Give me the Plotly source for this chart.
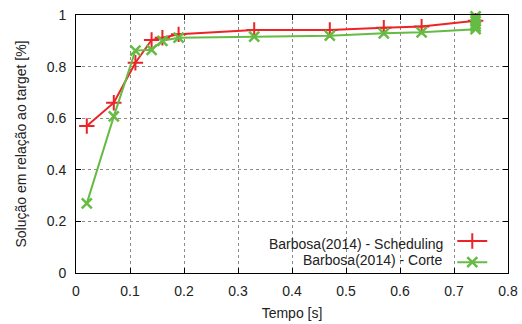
import plotly.graph_objects as go

# Data
time_sched = [0.02, 0.07, 0.11, 0.14, 0.16, 0.19, 0.33, 0.47, 0.57, 0.64, 0.74]
val_sched = [0.57, 0.66, 0.815, 0.903, 0.912, 0.925, 0.942, 0.942, 0.951, 0.955, 0.978]

time_corte = [0.02, 0.07, 0.11, 0.14, 0.16, 0.19, 0.33, 0.47, 0.57, 0.64,
              0.74, 0.74, 0.74, 0.74, 0.74, 0.74]
val_corte = [0.27, 0.607, 0.862, 0.865, 0.90, 0.912, 0.916, 0.92, 0.929, 0.933,
             0.945, 0.955, 0.965, 0.975, 0.985, 0.995]

label_sched = "Barbosa(2014) - Scheduling"
label_corte = "Barbosa(2014) - Corte"

x_ticks = [0, 0.1, 0.2, 0.3, 0.4, 0.5, 0.6, 0.7, 0.8]
x_ticktext = ["0", "0.1", "0.2", "0.3", "0.4", "0.5", "0.6", "0.7", "0.8"]
y_ticks = [0, 0.2, 0.4, 0.6, 0.8, 1]
y_ticktext = ["0", "0.2", "0.4", "0.6", "0.8", "1"]

RED = "#ec2327"
GREEN = "#66bb44"
FONT = "Liberation Sans"
FS = 14
TXT = "#222222"

fig = go.Figure()
fig.add_trace(go.Scatter(
    x=time_sched, y=val_sched, mode="lines+markers", name=label_sched,
    line=dict(color=RED, width=2),
    marker=dict(symbol="cross-thin", size=11, line=dict(color=RED, width=2)),
    showlegend=False, cliponaxis=False))
fig.add_trace(go.Scatter(
    x=time_corte, y=val_corte, mode="lines+markers", name=label_corte,
    line=dict(color=GREEN, width=2),
    marker=dict(symbol="x-thin", size=10, line=dict(color=GREEN, width=2.5)),
    showlegend=False, cliponaxis=False))

# legend samples (symbol only; labels drawn as right-aligned text like gnuplot)
fig.add_trace(go.Scatter(
    x=[None], y=[None], mode="lines+markers", name="",
    line=dict(color=RED, width=2),
    marker=dict(symbol="cross-thin", size=11, line=dict(color=RED, width=2)),
    showlegend=True))
fig.add_trace(go.Scatter(
    x=[None], y=[None], mode="lines+markers", name="",
    line=dict(color=GREEN, width=2),
    marker=dict(symbol="x-thin", size=10, line=dict(color=GREEN, width=2.5)),
    showlegend=True))

axis_common = dict(
    showline=True, linecolor="black", linewidth=1, mirror="ticks",
    ticks="inside", ticklen=5, tickcolor="black", tickwidth=1,
    showgrid=True, gridcolor="#8a8a8a", griddash="dot", gridwidth=1,
    zeroline=False, automargin=False,
    tickfont=dict(family=FONT, size=FS, color=TXT),
)

fig.update_xaxes(range=[0, 0.8], tickvals=x_ticks, ticktext=x_ticktext,
                 title=dict(text="Tempo [s]", font=dict(family=FONT, size=FS, color=TXT), standoff=10),
                 ticklabelstandoff=5, **axis_common)
fig.update_yaxes(range=[0, 1], tickvals=y_ticks, ticktext=y_ticktext,
                 title=dict(text="Solução em relação ao target [%]", font=dict(family=FONT, size=FS, color=TXT), standoff=16),
                 ticklabelstandoff=6, **axis_common)

fig.add_annotation(xref="paper", yref="paper", x=0.855, y=0.112, xanchor="right", yanchor="middle",
                   text=label_sched, showarrow=False, font=dict(family=FONT, size=FS, color=TXT))
fig.add_annotation(xref="paper", yref="paper", x=0.855, y=0.052, xanchor="right", yanchor="middle",
                   text=label_corte, showarrow=False, font=dict(family=FONT, size=FS, color=TXT))

fig.update_layout(
    width=522, height=324,
    margin=dict(l=76, r=14, t=15, b=51),
    paper_bgcolor="white", plot_bgcolor="white",
    font=dict(family=FONT, size=FS, color=TXT),
    legend=dict(x=0.871, y=-0.021, xanchor="left", yanchor="bottom",
                bgcolor="rgba(0,0,0,0)", borderwidth=0,
                font=dict(family=FONT, size=FS), tracegroupgap=0),
)

fig.write_html("out.html")
